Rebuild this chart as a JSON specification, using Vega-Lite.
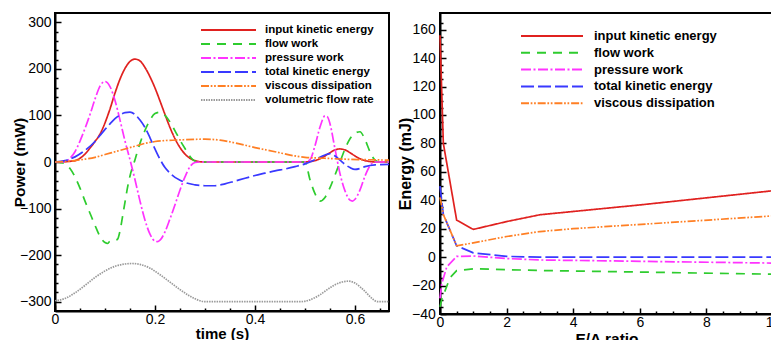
{
  "$schema": "https://vega.github.io/schema/vega-lite/v6.json",
  "padding": {"left": 11, "top": 12, "right": 0, "bottom": 0},
  "spacing": 2,
  "config": {
    "font": "Liberation Sans",
    "view": {"stroke": "black", "strokeWidth": 2},
    "axis": {"grid": false, "domainColor": "black", "domainWidth": 2, "tickColor": "black", "tickWidth": 1.5, "labelColor": "black", "labelFontSize": 14, "labelFont": "Liberation Sans", "titleFont": "Liberation Sans", "titleFontWeight": "bold", "titleColor": "black", "labelOverlap": false, "labelFlush": false, "labelBound": false},
    "legend": {"labelFont": "Liberation Sans", "labelColor": "black", "labelFontWeight": "bold", "padding": 0}
  },
  "datasets": {
    "left": [
      {"series":"input kinetic energy","t":0,"P":0},{"series":"input kinetic energy","t":0.02,"P":0.5},{"series":"input kinetic energy","t":0.03,"P":1.5},{"series":"input kinetic energy","t":0.04,"P":3},{"series":"input kinetic energy","t":0.05,"P":8},{"series":"input kinetic energy","t":0.06,"P":17},{"series":"input kinetic energy","t":0.07,"P":30},{"series":"input kinetic energy","t":0.08,"P":44},{"series":"input kinetic energy","t":0.09,"P":60},{"series":"input kinetic energy","t":0.10,"P":84},{"series":"input kinetic energy","t":0.11,"P":114},{"series":"input kinetic energy","t":0.12,"P":148},{"series":"input kinetic energy","t":0.13,"P":178},{"series":"input kinetic energy","t":0.14,"P":201},{"series":"input kinetic energy","t":0.15,"P":216},{"series":"input kinetic energy","t":0.16,"P":221},{"series":"input kinetic energy","t":0.17,"P":217},{"series":"input kinetic energy","t":0.18,"P":203},{"series":"input kinetic energy","t":0.19,"P":183},{"series":"input kinetic energy","t":0.20,"P":159},{"series":"input kinetic energy","t":0.21,"P":131},{"series":"input kinetic energy","t":0.22,"P":102},{"series":"input kinetic energy","t":0.23,"P":74},{"series":"input kinetic energy","t":0.24,"P":50},{"series":"input kinetic energy","t":0.25,"P":31},{"series":"input kinetic energy","t":0.26,"P":17},{"series":"input kinetic energy","t":0.27,"P":8},{"series":"input kinetic energy","t":0.28,"P":3},{"series":"input kinetic energy","t":0.29,"P":0.5},{"series":"input kinetic energy","t":0.30,"P":0},{"series":"input kinetic energy","t":0.40,"P":0},{"series":"input kinetic energy","t":0.50,"P":0},{"series":"input kinetic energy","t":0.51,"P":1},{"series":"input kinetic energy","t":0.52,"P":3},{"series":"input kinetic energy","t":0.53,"P":7},{"series":"input kinetic energy","t":0.54,"P":13},{"series":"input kinetic energy","t":0.55,"P":20},{"series":"input kinetic energy","t":0.56,"P":26},{"series":"input kinetic energy","t":0.57,"P":28},{"series":"input kinetic energy","t":0.58,"P":26},{"series":"input kinetic energy","t":0.59,"P":20},{"series":"input kinetic energy","t":0.60,"P":13},{"series":"input kinetic energy","t":0.61,"P":7},{"series":"input kinetic energy","t":0.62,"P":3},{"series":"input kinetic energy","t":0.63,"P":1},{"series":"input kinetic energy","t":0.64,"P":0},{"series":"input kinetic energy","t":0.668,"P":0},

      {"series":"flow work","t":0,"P":0},{"series":"flow work","t":0.01,"P":-1},{"series":"flow work","t":0.02,"P":-4},{"series":"flow work","t":0.03,"P":-14},{"series":"flow work","t":0.04,"P":-32},{"series":"flow work","t":0.05,"P":-56},{"series":"flow work","t":0.06,"P":-84},{"series":"flow work","t":0.07,"P":-110},{"series":"flow work","t":0.08,"P":-136},{"series":"flow work","t":0.09,"P":-160},{"series":"flow work","t":0.10,"P":-173},{"series":"flow work","t":0.105,"P":-175},{"series":"flow work","t":0.11,"P":-170},{"series":"flow work","t":0.12,"P":-168},{"series":"flow work","t":0.125,"P":-166},{"series":"flow work","t":0.13,"P":-148},{"series":"flow work","t":0.135,"P":-118},{"series":"flow work","t":0.14,"P":-86},{"series":"flow work","t":0.145,"P":-55},{"series":"flow work","t":0.15,"P":-30},{"series":"flow work","t":0.16,"P":5},{"series":"flow work","t":0.17,"P":40},{"series":"flow work","t":0.18,"P":68},{"series":"flow work","t":0.19,"P":90},{"series":"flow work","t":0.20,"P":104},{"series":"flow work","t":0.21,"P":107},{"series":"flow work","t":0.22,"P":100},{"series":"flow work","t":0.23,"P":86},{"series":"flow work","t":0.24,"P":67},{"series":"flow work","t":0.25,"P":47},{"series":"flow work","t":0.26,"P":29},{"series":"flow work","t":0.27,"P":12},{"series":"flow work","t":0.28,"P":2},{"series":"flow work","t":0.29,"P":0},{"series":"flow work","t":0.50,"P":0},{"series":"flow work","t":0.51,"P":-38},{"series":"flow work","t":0.52,"P":-68},{"series":"flow work","t":0.53,"P":-84},{"series":"flow work","t":0.54,"P":-76},{"series":"flow work","t":0.55,"P":-55},{"series":"flow work","t":0.56,"P":-28},{"series":"flow work","t":0.57,"P":0},{"series":"flow work","t":0.58,"P":28},{"series":"flow work","t":0.59,"P":50},{"series":"flow work","t":0.60,"P":62},{"series":"flow work","t":0.61,"P":65},{"series":"flow work","t":0.62,"P":48},{"series":"flow work","t":0.63,"P":22},{"series":"flow work","t":0.64,"P":4},{"series":"flow work","t":0.65,"P":0},{"series":"flow work","t":0.668,"P":0},

      {"series":"pressure work","t":0,"P":0},{"series":"pressure work","t":0.02,"P":1},{"series":"pressure work","t":0.03,"P":8},{"series":"pressure work","t":0.04,"P":22},{"series":"pressure work","t":0.05,"P":45},{"series":"pressure work","t":0.06,"P":72},{"series":"pressure work","t":0.07,"P":102},{"series":"pressure work","t":0.08,"P":135},{"series":"pressure work","t":0.09,"P":163},{"series":"pressure work","t":0.10,"P":173},{"series":"pressure work","t":0.11,"P":162},{"series":"pressure work","t":0.12,"P":132},{"series":"pressure work","t":0.13,"P":90},{"series":"pressure work","t":0.14,"P":45},{"series":"pressure work","t":0.15,"P":5},{"series":"pressure work","t":0.16,"P":-38},{"series":"pressure work","t":0.17,"P":-84},{"series":"pressure work","t":0.18,"P":-125},{"series":"pressure work","t":0.19,"P":-155},{"series":"pressure work","t":0.20,"P":-170},{"series":"pressure work","t":0.205,"P":-171},{"series":"pressure work","t":0.21,"P":-168},{"series":"pressure work","t":0.22,"P":-150},{"series":"pressure work","t":0.23,"P":-122},{"series":"pressure work","t":0.24,"P":-92},{"series":"pressure work","t":0.25,"P":-60},{"series":"pressure work","t":0.26,"P":-32},{"series":"pressure work","t":0.27,"P":-10},{"series":"pressure work","t":0.28,"P":-1},{"series":"pressure work","t":0.29,"P":0},{"series":"pressure work","t":0.50,"P":0},{"series":"pressure work","t":0.51,"P":5},{"series":"pressure work","t":0.52,"P":35},{"series":"pressure work","t":0.53,"P":75},{"series":"pressure work","t":0.54,"P":99},{"series":"pressure work","t":0.545,"P":97},{"series":"pressure work","t":0.55,"P":82},{"series":"pressure work","t":0.56,"P":28},{"series":"pressure work","t":0.57,"P":-25},{"series":"pressure work","t":0.58,"P":-62},{"series":"pressure work","t":0.59,"P":-82},{"series":"pressure work","t":0.595,"P":-84},{"series":"pressure work","t":0.60,"P":-80},{"series":"pressure work","t":0.61,"P":-60},{"series":"pressure work","t":0.62,"P":-30},{"series":"pressure work","t":0.63,"P":-8},{"series":"pressure work","t":0.64,"P":0},{"series":"pressure work","t":0.668,"P":0},

      {"series":"total kinetic energy","t":0,"P":0},{"series":"total kinetic energy","t":0.02,"P":3},{"series":"total kinetic energy","t":0.04,"P":11},{"series":"total kinetic energy","t":0.06,"P":25},{"series":"total kinetic energy","t":0.08,"P":44},{"series":"total kinetic energy","t":0.09,"P":57},{"series":"total kinetic energy","t":0.10,"P":70},{"series":"total kinetic energy","t":0.11,"P":82},{"series":"total kinetic energy","t":0.12,"P":93},{"series":"total kinetic energy","t":0.13,"P":101},{"series":"total kinetic energy","t":0.14,"P":106},{"series":"total kinetic energy","t":0.15,"P":107},{"series":"total kinetic energy","t":0.16,"P":102},{"series":"total kinetic energy","t":0.17,"P":90},{"series":"total kinetic energy","t":0.18,"P":74},{"series":"total kinetic energy","t":0.19,"P":52},{"series":"total kinetic energy","t":0.20,"P":28},{"series":"total kinetic energy","t":0.21,"P":6},{"series":"total kinetic energy","t":0.22,"P":-12},{"series":"total kinetic energy","t":0.23,"P":-24},{"series":"total kinetic energy","t":0.24,"P":-33},{"series":"total kinetic energy","t":0.25,"P":-39},{"series":"total kinetic energy","t":0.26,"P":-44},{"series":"total kinetic energy","t":0.28,"P":-49},{"series":"total kinetic energy","t":0.30,"P":-51},{"series":"total kinetic energy","t":0.32,"P":-51},{"series":"total kinetic energy","t":0.34,"P":-47},{"series":"total kinetic energy","t":0.36,"P":-41},{"series":"total kinetic energy","t":0.38,"P":-35},{"series":"total kinetic energy","t":0.40,"P":-29},{"series":"total kinetic energy","t":0.42,"P":-24},{"series":"total kinetic energy","t":0.44,"P":-19},{"series":"total kinetic energy","t":0.46,"P":-15},{"series":"total kinetic energy","t":0.48,"P":-10},{"series":"total kinetic energy","t":0.50,"P":-4},{"series":"total kinetic energy","t":0.52,"P":5},{"series":"total kinetic energy","t":0.54,"P":15},{"series":"total kinetic energy","t":0.55,"P":18},{"series":"total kinetic energy","t":0.56,"P":13},{"series":"total kinetic energy","t":0.57,"P":4},{"series":"total kinetic energy","t":0.58,"P":-5},{"series":"total kinetic energy","t":0.59,"P":-12},{"series":"total kinetic energy","t":0.60,"P":-16},{"series":"total kinetic energy","t":0.61,"P":-14},{"series":"total kinetic energy","t":0.62,"P":-10},{"series":"total kinetic energy","t":0.64,"P":-6},{"series":"total kinetic energy","t":0.668,"P":-5},

      {"series":"viscous dissipation","t":0,"P":0},{"series":"viscous dissipation","t":0.02,"P":1},{"series":"viscous dissipation","t":0.04,"P":3},{"series":"viscous dissipation","t":0.06,"P":6},{"series":"viscous dissipation","t":0.08,"P":10},{"series":"viscous dissipation","t":0.10,"P":16},{"series":"viscous dissipation","t":0.12,"P":22},{"series":"viscous dissipation","t":0.14,"P":28},{"series":"viscous dissipation","t":0.16,"P":34},{"series":"viscous dissipation","t":0.18,"P":40},{"series":"viscous dissipation","t":0.20,"P":44},{"series":"viscous dissipation","t":0.22,"P":46},{"series":"viscous dissipation","t":0.25,"P":47.5},{"series":"viscous dissipation","t":0.30,"P":49},{"series":"viscous dissipation","t":0.33,"P":47},{"series":"viscous dissipation","t":0.36,"P":41},{"series":"viscous dissipation","t":0.40,"P":31},{"series":"viscous dissipation","t":0.44,"P":22},{"series":"viscous dissipation","t":0.48,"P":13},{"series":"viscous dissipation","t":0.50,"P":10},{"series":"viscous dissipation","t":0.54,"P":8},{"series":"viscous dissipation","t":0.58,"P":6},{"series":"viscous dissipation","t":0.62,"P":5},{"series":"viscous dissipation","t":0.668,"P":4},

      {"series":"volumetric flow rate","t":0,"P":-298},{"series":"volumetric flow rate","t":0.02,"P":-293},{"series":"volumetric flow rate","t":0.04,"P":-281},{"series":"volumetric flow rate","t":0.06,"P":-265},{"series":"volumetric flow rate","t":0.08,"P":-248},{"series":"volumetric flow rate","t":0.10,"P":-234},{"series":"volumetric flow rate","t":0.12,"P":-224},{"series":"volumetric flow rate","t":0.14,"P":-219},{"series":"volumetric flow rate","t":0.155,"P":-218},{"series":"volumetric flow rate","t":0.17,"P":-220},{"series":"volumetric flow rate","t":0.19,"P":-228},{"series":"volumetric flow rate","t":0.21,"P":-242},{"series":"volumetric flow rate","t":0.23,"P":-258},{"series":"volumetric flow rate","t":0.25,"P":-274},{"series":"volumetric flow rate","t":0.27,"P":-288},{"series":"volumetric flow rate","t":0.29,"P":-298},{"series":"volumetric flow rate","t":0.30,"P":-300},{"series":"volumetric flow rate","t":0.49,"P":-300},{"series":"volumetric flow rate","t":0.51,"P":-296},{"series":"volumetric flow rate","t":0.53,"P":-285},{"series":"volumetric flow rate","t":0.55,"P":-270},{"series":"volumetric flow rate","t":0.57,"P":-259},{"series":"volumetric flow rate","t":0.587,"P":-256},{"series":"volumetric flow rate","t":0.60,"P":-260},{"series":"volumetric flow rate","t":0.62,"P":-278},{"series":"volumetric flow rate","t":0.635,"P":-294},{"series":"volumetric flow rate","t":0.645,"P":-300},{"series":"volumetric flow rate","t":0.668,"P":-300}
    ],
    "right": [
      {"series":"input kinetic energy","r":0,"E":156},{"series":"input kinetic energy","r":0.1,"E":80},{"series":"input kinetic energy","r":0.5,"E":26},{"series":"input kinetic energy","r":1,"E":19.5},{"series":"input kinetic energy","r":2,"E":25},{"series":"input kinetic energy","r":3,"E":29.8},{"series":"input kinetic energy","r":6,"E":36.7},{"series":"input kinetic energy","r":10,"E":46.7},
      {"series":"flow work","r":0,"E":-35},{"series":"flow work","r":0.05,"E":-30},{"series":"flow work","r":0.3,"E":-14.5},{"series":"flow work","r":0.5,"E":-9.5},{"series":"flow work","r":1,"E":-8.2},{"series":"flow work","r":2,"E":-8.8},{"series":"flow work","r":3,"E":-9.4},{"series":"flow work","r":10,"E":-12},
      {"series":"pressure work","r":0,"E":-29},{"series":"pressure work","r":0.05,"E":-19},{"series":"pressure work","r":0.2,"E":-7},{"series":"pressure work","r":0.5,"E":0.5},{"series":"pressure work","r":1,"E":0.8},{"series":"pressure work","r":2,"E":-1},{"series":"pressure work","r":3,"E":-2},{"series":"pressure work","r":10,"E":-4.2},
      {"series":"total kinetic energy","r":0,"E":50},{"series":"total kinetic energy","r":0.1,"E":30},{"series":"total kinetic energy","r":0.5,"E":8},{"series":"total kinetic energy","r":1,"E":3},{"series":"total kinetic energy","r":2,"E":0.5},{"series":"total kinetic energy","r":3,"E":0},{"series":"total kinetic energy","r":10,"E":0},
      {"series":"viscous dissipation","r":0,"E":42},{"series":"viscous dissipation","r":0.1,"E":30},{"series":"viscous dissipation","r":0.5,"E":8},{"series":"viscous dissipation","r":1,"E":10},{"series":"viscous dissipation","r":2,"E":14.5},{"series":"viscous dissipation","r":3,"E":18},{"series":"viscous dissipation","r":4,"E":20},{"series":"viscous dissipation","r":10,"E":29}
    ]
  },
  "resolve": {"scale": {"color": "independent", "strokeDash": "independent"}},
  "hconcat": [
    {
      "width": 334, "height": 298,
      "data": {"name": "left"},
      "resolve": {"axis": {"x": "independent", "y": "independent"}},
      "layer": [
        {
          "mark": {"type": "line", "interpolate": "monotone", "strokeWidth": 1.7},
          "encoding": {
            "x": {"field": "t", "type": "quantitative", "scale": {"domain": [0, 0.668], "nice": false, "zero": false},
                  "axis": {"orient": "bottom", "title": "time (s)", "values": [0, 0.2, 0.4, 0.6], "format": "~g", "tickSize": -6, "labelPadding": 7, "titlePadding": 0, "titleFontSize": 15}},
            "y": {"field": "P", "type": "quantitative", "scale": {"domain": [-320, 320], "nice": false},
                  "axis": {"orient": "left", "title": "Power (mW)", "values": [-300, -200, -100, 0, 100, 200, 300], "tickSize": -6, "labelPadding": 10, "titlePadding": -8, "titleFontSize": 15.5}},
            "color": {"field": "series", "type": "nominal",
                      "scale": {"domain": ["input kinetic energy", "flow work", "pressure work", "total kinetic energy", "viscous dissipation", "volumetric flow rate"],
                                "range": ["#e0211f", "#2ecc2e", "#ff33ff", "#3939ff", "#ff7f24", "#9a9a9a"]},
                      "legend": {"orient": "none", "legendX": 167, "legendY": 10.5, "title": null, "symbolType": "M-5,0H5", "symbolSize": 121, "symbolStrokeWidth": 2, "labelFontSize": 11.5, "labelOffset": 30, "rowPadding": 2}},
            "strokeDash": {"field": "series", "type": "nominal",
                      "scale": {"domain": ["input kinetic energy", "flow work", "pressure work", "total kinetic energy", "viscous dissipation", "volumetric flow rate"],
                                "range": [[1, 0], [9, 7], [10, 2.5, 2, 2.5], [13, 4], [8, 1.7, 1.7, 1.7, 1.7, 1.9], [1.5, 1]]},
                      "legend": {"orient": "none", "legendX": 167, "legendY": 10.5, "title": null, "symbolType": "M-5,0H5", "symbolSize": 121, "symbolStrokeWidth": 2, "labelFontSize": 11.5, "labelOffset": 30, "rowPadding": 2}}
          }
        },
        {
          "mark": {"type": "point", "opacity": 0},
          "encoding": {
            "x": {"field": "t", "type": "quantitative", "scale": {"domain": [0, 0.668], "nice": false, "zero": false},
                  "axis": {"orient": "bottom", "title": null, "labels": false, "domain": false, "tickSize": -3, "values": [0.05, 0.1, 0.15, 0.25, 0.3, 0.35, 0.45, 0.5, 0.55, 0.65]}},
            "y": {"field": "P", "type": "quantitative", "scale": {"domain": [-320, 320], "nice": false},
                  "axis": {"orient": "left", "title": null, "labels": false, "domain": false, "tickSize": -3, "values": [-280, -260, -240, -220, -180, -160, -140, -120, -80, -60, -40, -20, 20, 40, 60, 80, 120, 140, 160, 180, 220, 240, 260, 280]}}
          }
        }
      ]
    },
    {
      "width": 333, "height": 301,
      "data": {"name": "right"},
      "resolve": {"axis": {"x": "independent", "y": "independent"}},
      "layer": [
        {
          "mark": {"type": "line", "strokeWidth": 1.7},
          "encoding": {
            "x": {"field": "r", "type": "quantitative", "scale": {"domain": [0, 10], "nice": false, "zero": false},
                  "axis": {"orient": "bottom", "title": "E/A ratio", "values": [0, 2, 4, 6, 8, 10], "format": "d", "tickSize": -6, "labelPadding": 7, "titlePadding": 2, "titleFontSize": 15.5}},
            "y": {"field": "E", "type": "quantitative", "scale": {"domain": [-40, 171.7], "nice": false, "zero": false},
                  "axis": {"orient": "left", "title": "Energy (mJ)", "values": [-40, -20, 0, 20, 40, 60, 80, 100, 120, 140, 160], "tickSize": -6, "labelPadding": 10.7, "titlePadding": -1.5, "titleFontSize": 16}},
            "color": {"field": "series", "type": "nominal",
                      "scale": {"domain": ["input kinetic energy", "flow work", "pressure work", "total kinetic energy", "viscous dissipation"],
                                "range": ["#e0211f", "#2ecc2e", "#ff33ff", "#3939ff", "#ff7f24"]},
                      "legend": {"orient": "none", "legendX": 104.5, "legendY": 15.5, "title": null, "symbolType": "M-5,0H5", "symbolSize": 153.76, "symbolStrokeWidth": 2, "labelFontSize": 13, "labelOffset": 34.5, "rowPadding": 1.8}},
            "strokeDash": {"field": "series", "type": "nominal",
                      "scale": {"domain": ["input kinetic energy", "flow work", "pressure work", "total kinetic energy", "viscous dissipation"],
                                "range": [[1, 0], [9, 7], [10, 2.5, 2, 2.5], [13, 4], [8, 1.7, 1.7, 1.7, 1.7, 1.9]]},
                      "legend": {"orient": "none", "legendX": 104.5, "legendY": 15.5, "title": null, "symbolType": "M-5,0H5", "symbolSize": 153.76, "symbolStrokeWidth": 2, "labelFontSize": 13, "labelOffset": 34.5, "rowPadding": 1.8}}
          }
        },
        {
          "mark": {"type": "point", "opacity": 0},
          "encoding": {
            "x": {"field": "r", "type": "quantitative", "scale": {"domain": [0, 10], "nice": false, "zero": false},
                  "axis": {"orient": "bottom", "title": null, "labels": false, "domain": false, "tickSize": -3, "values": [0.5, 1, 1.5, 2.5, 3, 3.5, 4.5, 5, 5.5, 6.5, 7, 7.5, 8.5, 9, 9.5]}},
            "y": {"field": "E", "type": "quantitative", "scale": {"domain": [-40, 171.7], "nice": false, "zero": false},
                  "axis": {"orient": "left", "title": null, "labels": false, "domain": false, "tickSize": -3, "values": [-35, -30, -25, -15, -10, -5, 5, 10, 15, 25, 30, 35, 45, 50, 55, 65, 70, 75, 85, 90, 95, 105, 110, 115, 125, 130, 135, 145, 150, 155, 165]}}
          }
        }
      ]
    }
  ]
}
